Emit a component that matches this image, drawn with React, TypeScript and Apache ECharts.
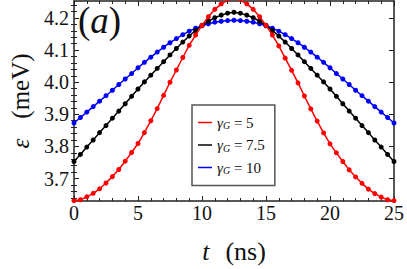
import React, { useEffect, useRef } from 'react';
import * as echarts from 'echarts';

const tValues = [
  0, 0.5, 1, 1.5, 2, 2.5, 3, 3.5, 4, 4.5, 5, 5.5, 6, 6.5, 7, 7.5, 8, 8.5, 9, 9.5,
  10, 10.5, 11, 11.5, 12, 12.5, 13, 13.5, 14, 14.5, 15, 15.5, 16, 16.5, 17, 17.5,
  18, 18.5, 19, 19.5, 20, 20.5, 21, 21.5, 22, 22.5, 23, 23.5, 24, 24.5, 25,
];

const redValues = [
  3.631, 3.634, 3.643, 3.654, 3.668, 3.686, 3.706, 3.728, 3.754, 3.781, 3.809, 3.843,
  3.880, 3.918, 3.959, 4.000, 4.038, 4.077, 4.115, 4.147, 4.177, 4.204, 4.227, 4.244,
  4.255, 4.259, 4.255, 4.244, 4.227, 4.204, 4.177, 4.147, 4.113, 4.075, 4.037, 3.998,
  3.957, 3.917, 3.879, 3.842, 3.808, 3.780, 3.753, 3.727, 3.705, 3.685, 3.667, 3.653,
  3.642, 3.634, 3.631,
];

const blackValues = [
  3.753, 3.775, 3.798, 3.820, 3.843, 3.865, 3.888, 3.910, 3.933, 3.956, 3.979, 4.001,
  4.022, 4.043, 4.064, 4.085, 4.105, 4.125, 4.144, 4.161, 4.177, 4.190, 4.201, 4.209,
  4.215, 4.218, 4.215, 4.209, 4.201, 4.190, 4.177, 4.161, 4.144, 4.125, 4.105, 4.085,
  4.064, 4.043, 4.022, 4.001, 3.979, 3.956, 3.933, 3.910, 3.888, 3.865, 3.843, 3.820,
  3.798, 3.775, 3.753,
];

const blueValues = [
  3.873, 3.890, 3.907, 3.924, 3.941, 3.958, 3.975, 3.993, 4.010, 4.027, 4.045, 4.062,
  4.078, 4.094, 4.109, 4.123, 4.136, 4.148, 4.159, 4.168, 4.176, 4.182, 4.187, 4.190,
  4.192, 4.193, 4.192, 4.190, 4.187, 4.182, 4.176, 4.168, 4.159, 4.148, 4.136, 4.123,
  4.109, 4.094, 4.078, 4.062, 4.045, 4.027, 4.010, 3.993, 3.975, 3.958, 3.941, 3.924,
  3.907, 3.890, 3.873,
];

const gammaValues = ['5', '7.5', '10'];
const seriesNames = ['γG = 5', 'γG = 7.5', 'γG = 10'];
const seriesColors = ['#ff0000', '#000000', '#0000ff'];

const yMajorTicks = [3.7, 3.8, 3.9, 4.0, 4.1, 4.2];
const yMinorTicks = [
  3.64, 3.66, 3.68, 3.72, 3.74, 3.76, 3.78, 3.82, 3.84, 3.86, 3.88, 3.92, 3.94, 3.96,
  3.98, 4.02, 4.04, 4.06, 4.08, 4.12, 4.14, 4.16, 4.18, 4.22, 4.24,
];

const FONT = 'Liberation Serif, Times New Roman, serif';
const FRAME = '#222';
const INK = '#111';

export default function App() {
  const ref = useRef<HTMLDivElement>(null);

  useEffect(() => {
    if (!ref.current) return;
    const chart = echarts.init(ref.current, undefined, { renderer: 'svg' });

    const seriesData = [redValues, blackValues, blueValues];

    const yBase = {
      type: 'value' as const,
      min: 3.63,
      max: 4.253,
      splitLine: { show: false },
      minorSplitLine: { show: false },
    };
    const lineStyle = { color: FRAME, width: 1.5 };
    const tickStyle = { color: FRAME, width: 1 };

    const xBase = {
      type: 'value' as const,
      min: 0,
      max: 25,
      interval: 5,
      splitLine: { show: false },
      minorSplitLine: { show: false },
      axisLine: { show: true, onZero: false, lineStyle },
      axisTick: { show: true, inside: true, length: 5, lineStyle: tickStyle },
      minorTick: { show: true, splitNumber: 5, length: 3, lineStyle: tickStyle },
    };

    const nameRich = (size: number) => ({
      i: { fontFamily: FONT, fontSize: size, fontStyle: 'italic', color: INK },
      n: { fontFamily: FONT, fontSize: size, color: INK },
      s: { fontFamily: FONT, fontSize: size, color: INK, width: 16 },
    });

    chart.setOption({
      animation: false,
      backgroundColor: '#ffffff',
      textStyle: { fontFamily: FONT },
      grid: { left: 72, right: 11, top: 1, bottom: 68, containLabel: false },
      xAxis: [
        {
          ...xBase,
          position: 'bottom',
          axisLabel: { show: true, fontFamily: FONT, fontSize: 20, color: INK, margin: 2 },
          name: '{i|t}{s| }{n|(ns)}',
          nameLocation: 'middle',
          nameGap: 37,
          nameTextStyle: { fontFamily: FONT, fontSize: 26, color: INK, rich: nameRich(26) },
        },
        {
          ...xBase,
          position: 'top',
          axisLabel: { show: false },
        },
      ],
      yAxis: [
        {
          ...yBase,
          position: 'left',
          axisLine: { show: true, onZero: false, lineStyle },
          axisTick: { show: true, inside: true, length: 5, customValues: yMajorTicks, lineStyle: tickStyle },
          axisLabel: {
            show: true,
            customValues: yMajorTicks,
            formatter: (v: number) => v.toFixed(1),
            fontFamily: FONT,
            fontSize: 20,
            color: INK,
            margin: 5,
          },
          name: '{i|ε}{s| }{n|(meV)}',
          nameLocation: 'middle',
          nameGap: 41,
          nameTextStyle: {
            fontFamily: FONT,
            fontSize: 25,
            color: INK,
            rich: { ...nameRich(25), s: { fontFamily: FONT, fontSize: 25, color: INK, width: 20 } },
          },
        },
        {
          ...yBase,
          position: 'left',
          axisLine: { show: false },
          axisTick: { show: true, inside: true, length: 3, customValues: yMinorTicks, lineStyle: tickStyle },
          axisLabel: { show: false },
        },
        {
          ...yBase,
          position: 'right',
          axisLine: { show: true, onZero: false, lineStyle },
          axisTick: { show: true, inside: true, length: 5, customValues: yMajorTicks, lineStyle: tickStyle },
          axisLabel: { show: false },
        },
        {
          ...yBase,
          position: 'right',
          axisLine: { show: false },
          axisTick: { show: true, inside: true, length: 3, customValues: yMinorTicks, lineStyle: tickStyle },
          axisLabel: { show: false },
        },
      ],
      legend: {
        left: 192,
        top: 105,
        orient: 'vertical',
        data: seriesNames,
        icon: 'rect',
        itemWidth: 14,
        itemHeight: 1.5,
        itemGap: 7,
        backgroundColor: '#ffffff',
        borderColor: '#555',
        borderWidth: 1.5,
        borderRadius: 0,
        padding: [10, 10, 10, 6],
        itemStyle: { borderWidth: 0 },
        formatter: (name: string) => {
          const idx = seriesNames.indexOf(name);
          return `{g|γ}{s|G}{n| = ${gammaValues[idx]}}`;
        },
        textStyle: {
          fontFamily: FONT,
          fontSize: 15,
          color: INK,
          rich: {
            g: { fontFamily: FONT, fontSize: 15, fontStyle: 'italic', color: INK, lineHeight: 16 },
            s: { fontFamily: FONT, fontSize: 10, fontStyle: 'italic', color: INK, lineHeight: 10, verticalAlign: 'bottom' },
            n: { fontFamily: FONT, fontSize: 15, color: INK, lineHeight: 16 },
          },
        },
      },
      graphic: [
        {
          type: 'text',
          left: 78,
          top: 2,
          style: {
            text: '{n|(}{i|a}{n|)}',
            fontFamily: FONT,
            fontSize: 37,
            fill: INK,
            rich: {
              i: { fontFamily: FONT, fontSize: 37, fontStyle: 'italic', fill: INK },
              n: { fontFamily: FONT, fontSize: 37, fill: INK },
            },
          },
        },
      ],
      series: seriesNames.map((name, i) => ({
        name,
        type: 'line',
        xAxisIndex: 0,
        yAxisIndex: 0,
        data: tValues.map((t, j) => [t, seriesData[i][j]]),
        symbol: 'circle',
        symbolSize: 5,
        showSymbol: true,
        clip: true,
        lineStyle: { color: seriesColors[i], width: 1.5 },
        itemStyle: { color: seriesColors[i] },
        z: 3 - i,
      })),
    });

    return () => chart.dispose();
  }, []);

  return (
    <div
      ref={ref}
      style={{ position: 'fixed', left: 0, top: 0, width: 407, height: 269 }}
    />
  );
}
